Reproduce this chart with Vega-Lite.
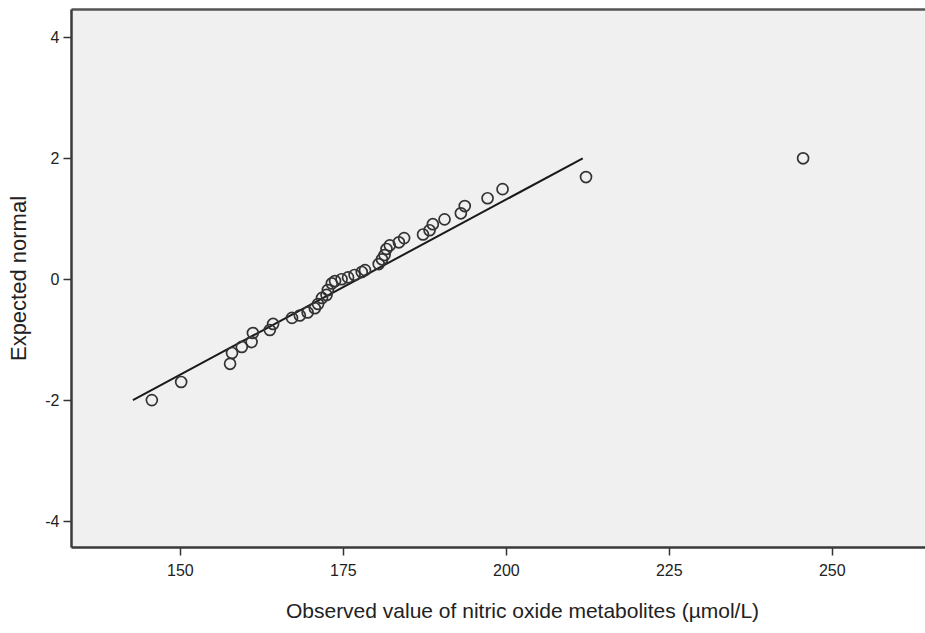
{
  "$schema": "https://vega.github.io/schema/vega-lite/v6.json",
  "width": 854,
  "height": 538,
  "autosize": {"type": "none"},
  "padding": {"left": 71, "top": 9, "right": 0, "bottom": 86},
  "background": "white",
  "config": {
    "view": {"fill": "#f0f0f0", "stroke": null},
    "font": "Liberation Sans",
    "axis": {"grid": false, "domainColor": "#3a3a3a", "domainWidth": 2.5, "tickColor": "#333333", "tickWidth": 1.5, "labelColor": "#222222", "titleColor": "#222222", "labelFontSize": 16, "titleFontWeight": "normal", "labelFont": "Liberation Sans", "titleFont": "Liberation Sans"}
  },
  "datasets": {
    "points": [
      {"observed": 145.7, "expected": -2.0},
      {"observed": 150.2, "expected": -1.7},
      {"observed": 157.7, "expected": -1.4},
      {"observed": 158.0, "expected": -1.22},
      {"observed": 159.5, "expected": -1.12},
      {"observed": 161.0, "expected": -1.04},
      {"observed": 161.2, "expected": -0.89},
      {"observed": 163.8, "expected": -0.84},
      {"observed": 164.3, "expected": -0.74},
      {"observed": 167.2, "expected": -0.64},
      {"observed": 168.4, "expected": -0.6},
      {"observed": 169.6, "expected": -0.55},
      {"observed": 170.7, "expected": -0.48},
      {"observed": 171.2, "expected": -0.41},
      {"observed": 171.8, "expected": -0.31},
      {"observed": 172.5, "expected": -0.26},
      {"observed": 172.7, "expected": -0.18},
      {"observed": 173.3, "expected": -0.07},
      {"observed": 173.8, "expected": -0.03},
      {"observed": 174.8, "expected": 0.0},
      {"observed": 175.8, "expected": 0.03},
      {"observed": 176.8, "expected": 0.07},
      {"observed": 177.9, "expected": 0.12},
      {"observed": 178.4, "expected": 0.15},
      {"observed": 180.5, "expected": 0.25},
      {"observed": 181.0, "expected": 0.33},
      {"observed": 181.4, "expected": 0.4},
      {"observed": 181.7, "expected": 0.5},
      {"observed": 182.2, "expected": 0.56},
      {"observed": 183.6, "expected": 0.61},
      {"observed": 184.4, "expected": 0.68},
      {"observed": 187.3, "expected": 0.74},
      {"observed": 188.3, "expected": 0.81},
      {"observed": 188.8, "expected": 0.91},
      {"observed": 190.6, "expected": 0.99},
      {"observed": 193.1, "expected": 1.09},
      {"observed": 193.7, "expected": 1.21},
      {"observed": 197.2, "expected": 1.34},
      {"observed": 199.5, "expected": 1.49},
      {"observed": 212.3, "expected": 1.69},
      {"observed": 245.6, "expected": 2.0}
    ],
    "refline": [
      {"observed": 142.8, "expected": -2.0},
      {"observed": 211.8, "expected": 2.0}
    ]
  },
  "layer": [
    {
      "data": {"name": "refline"},
      "mark": {"type": "line", "color": "#1a1a1a", "strokeWidth": 2, "clip": true},
      "encoding": {
        "x": {"field": "observed", "type": "quantitative", "scale": {"domain": [133.3, 264.3], "nice": false, "zero": false},
          "axis": {"orient": "bottom", "values": [150, 175, 200, 225, 250], "tickSize": 8, "labelPadding": 7, "title": "Observed value of nitric oxide metabolites (µmol/L)", "titleFontSize": 21, "titlePadding": 22, "titleX": 451, "titleAnchor": "middle"}},
        "y": {"field": "expected", "type": "quantitative", "scale": {"domain": [-4.43, 4.47], "nice": false, "zero": false},
          "axis": {"values": [-4, -2, 0, 2, 4], "tickSize": 8, "labelPadding": 4, "labelExpr": "datum.value < 0 ? '-' + abs(datum.value) : '' + datum.value", "title": "Expected normal", "titleFontSize": 22, "titlePadding": 14}}
      }
    },
    {
      "data": {"name": "points"},
      "mark": {"type": "point", "shape": "circle", "filled": false, "size": 120, "stroke": "#333333", "strokeWidth": 1.7, "opacity": 1},
      "encoding": {
        "x": {"field": "observed", "type": "quantitative",
          "axis": {"orient": "top", "labels": false, "ticks": false, "title": null, "domain": true, "domainColor": "#555555", "domainWidth": 2.5}},
        "y": {"field": "expected", "type": "quantitative"}
      }
    }
  ]
}
